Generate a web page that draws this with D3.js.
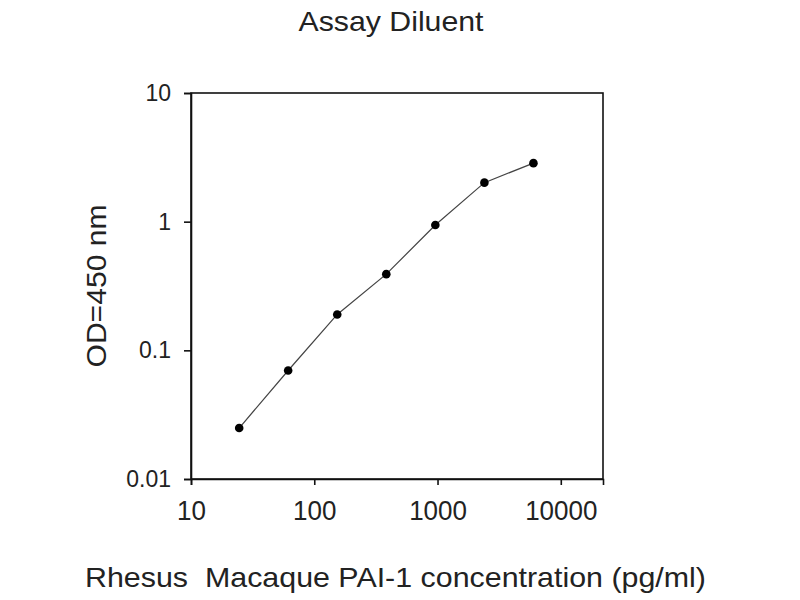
<!DOCTYPE html>
<html>
<head>
<meta charset="utf-8">
<script src="https://cdn.jsdelivr.net/npm/d3@7"></script>
<style>
  body { margin: 0; background: #fff; }
  text { font-family: "Liberation Sans", Arial, sans-serif; fill: #222; }
</style>
</head>
<body>
<div id="chart"></div>
<script>
// standard curve data (pg/ml vs OD at 450 nm)
const concentrations = [24.6, 61.4, 153.6, 384, 960, 2400, 6000];
const odValues = [0.0249, 0.0697, 0.190, 0.391, 0.942, 2.01, 2.85];
const xTicks = [10, 100, 1000, 10000];
const yTicks = [0.01, 0.1, 1, 10];

const titleText = "Assay Diluent";
const xLabel = "Rhesus  Macaque PAI-1 concentration (pg/ml)";
const yLabel = "OD=450 nm";

// dimensions
const W = 800, H = 600;
const plot = {left: 191, right: 603, top: 93, bottom: 479};

const svg = d3.select("#chart")
  .append("svg")
    .attr("width", W)
    .attr("height", H);

// scales
const x = d3.scaleLog()
  .domain([10, 22000])
  .range([plot.left, plot.right]);
const y = d3.scaleLog()
  .domain([0.01, 10])
  .range([plot.bottom, plot.top]);

// x axis
const gx = svg.append("g")
  .attr("transform", `translate(0,${plot.bottom})`)
  .call(d3.axisBottom(x).tickValues(xTicks).tickFormat(d => String(d))
    .tickSize(6).tickPadding(16));
gx.selectAll("text")
  .style("font-size", "26px")
  .attr("transform", "translate(0,-3) scale(1,1.08)");

// y axis
const gy = svg.append("g")
  .attr("transform", `translate(${plot.left},0)`)
  .call(d3.axisLeft(y).tickValues(yTicks).tickFormat(d => String(d))
    .tickSize(7).tickPadding(13));
gy.selectAll("text")
  .style("font-size", "23px");

svg.selectAll(".domain, .tick line")
  .attr("stroke", "#111")
  .attr("stroke-width", 1.6);

// frame around plot
svg.append("rect")
  .attr("x", plot.left)
  .attr("y", plot.top)
  .attr("width", plot.right - plot.left)
  .attr("height", plot.bottom - plot.top)
  .attr("fill", "none")
  .attr("stroke", "#111")
  .attr("stroke-width", 1.6);

// data line
const pts = concentrations.map((c, i) => ({c: c, od: odValues[i]}));
svg.append("path")
  .datum(pts)
  .attr("fill", "none")
  .attr("stroke", "#444")
  .attr("stroke-width", 1.2)
  .attr("d", d3.line().x(d => x(d.c)).y(d => y(d.od)));

svg.append("g")
  .selectAll("circle")
  .data(pts)
  .join("circle")
    .attr("cx", d => x(d.c))
    .attr("cy", d => y(d.od))
    .attr("r", 4.3)
    .attr("fill", "#000");

// title
svg.append("text")
  .attr("x", 391)
  .attr("y", 31)
  .attr("text-anchor", "middle")
  .attr("textLength", 185)
  .attr("lengthAdjust", "spacingAndGlyphs")
  .style("font-size", "28px")
  .text(titleText);

// x label (keep the double space)
svg.append("text")
  .attr("x", 85)
  .attr("y", 587)
  .attr("textLength", 621)
  .attr("lengthAdjust", "spacingAndGlyphs")
  .style("font-size", "28px")
  .style("white-space", "pre")
  .text(xLabel);

// y label
svg.append("text")
  .attr("transform", `translate(106,${(plot.top + plot.bottom) / 2}) rotate(-90)`)
  .attr("text-anchor", "middle")
  .attr("textLength", 163)
  .attr("lengthAdjust", "spacingAndGlyphs")
  .style("font-size", "28px")
  .text(yLabel);
</script>
</body>
</html>
